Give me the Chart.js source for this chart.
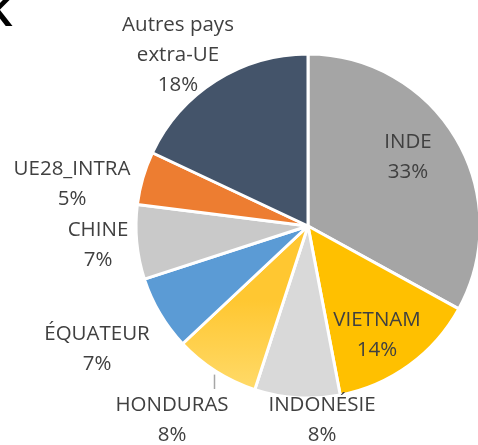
<!DOCTYPE html>
<html lang="fr">
<head>
    <meta charset="UTF-8">
    <title>Répartition par pays</title>
    <style>
        body {
            margin: 0;
            padding: 0;
            background-color: #ffffff;
            overflow: hidden;
        }
        canvas {
            display: block;
        }
    </style>
    <script src="https://cdn.jsdelivr.net/npm/chart.js"></script>
</head>
<body>
    <canvas id="pieChart" width="478" height="445"></canvas>

    <script>
        // Data
        const categories = ['INDE', 'VIETNAM', 'INDONÉSIE', 'HONDURAS', 'ÉQUATEUR', 'CHINE', 'UE28_INTRA', 'Autres pays extra-UE'];
        const labelLines = [['INDE'], ['VIETNAM'], ['INDONÉSIE'], ['HONDURAS'], ['ÉQUATEUR'], ['CHINE'], ['UE28_INTRA'], ['Autres pays', 'extra-UE']];
        const shares = [33, 14, 8, 8, 7, 7, 5, 18];

        const sliceColors = ['#A5A5A5', '#FFC000', '#D9D9D9', null, '#5B9BD5', '#C9C9C9', '#ED7D31', '#44546A'];

        // label centres relative to the pie centre (px)
        const labelOffsets = [[100, -69], [69, 109], [14, 194], [-136, 194], [-211, 123], [-210, 19], [-236, -42], [-130, -171]];
        const leaderFor = 3; // HONDURAS has a leader line

        const LABEL_FONT = '20.5px "Open Sans", sans-serif';
        const LINE_H = 30;

        function sliceColor(c) {
            const i = c.dataIndex;
            if (i === 3) {
                const g = c.chart.ctx.createLinearGradient(0, 300, 0, 395);
                g.addColorStop(0, '#FFC731');
                g.addColorStop(1, '#FFDB6C');
                return g;
            }
            return sliceColors[i];
        }

        const labelPlugin = {
            id: 'sliceLabels',
            afterDatasetsDraw(chart) {
                const ctx = chart.ctx;
                const meta = chart.getDatasetMeta(0);
                const total = shares.reduce((a, b) => a + b, 0);
                ctx.save();
                ctx.font = LABEL_FONT;
                ctx.fillStyle = '#404040';
                ctx.textAlign = 'center';
                ctx.textBaseline = 'middle';
                meta.data.forEach((arc, i) => {
                    const lines = labelLines[i].concat([Math.round(shares[i] / total * 100) + '%']);
                    const cx = arc.x + labelOffsets[i][0];
                    const cy = arc.y + labelOffsets[i][1];
                    const top = cy - (lines.length - 1) * LINE_H / 2;
                    lines.forEach((t, k) => ctx.fillText(t, cx, top + k * LINE_H));

                    if (i === leaderFor) {
                        const mid = (arc.startAngle + arc.endAngle) / 2;
                        const sx = arc.x + Math.cos(mid) * (arc.outerRadius + 4);
                        const sy = arc.y + Math.sin(mid) * (arc.outerRadius + 4);
                        ctx.beginPath();
                        ctx.strokeStyle = '#A6A6A6';
                        ctx.lineWidth = 1.5;
                        ctx.moveTo(Math.round(sx) + 0.5, sy);
                        ctx.lineTo(Math.round(sx) + 0.5, top - 16);
                        ctx.stroke();
                    }
                });
                // clipped title letter in the top-left corner
                ctx.font = 'bold 40px "Liberation Sans", Arial, sans-serif';
                ctx.fillStyle = '#000000';
                ctx.textAlign = 'left';
                ctx.textBaseline = 'alphabetic';
                ctx.fillText('K', -16, 26);
                ctx.restore();
            }
        };

        const ctx = document.getElementById('pieChart').getContext('2d');
        const pieChart = new Chart(ctx, {
            type: 'pie',
            data: {
                labels: categories,
                datasets: [{
                    data: shares,
                    backgroundColor: sliceColor,
                    borderColor: '#ffffff',
                    borderWidth: 3,
                    radius: 172
                }]
            },
            options: {
                responsive: false,
                animation: false,
                layout: {
                    padding: { left: 138, right: 0, top: 56, bottom: 49 }
                },
                plugins: {
                    legend: { display: false },
                    tooltip: { enabled: false }
                }
            },
            plugins: [labelPlugin]
        });
    </script>
</body>
</html>
